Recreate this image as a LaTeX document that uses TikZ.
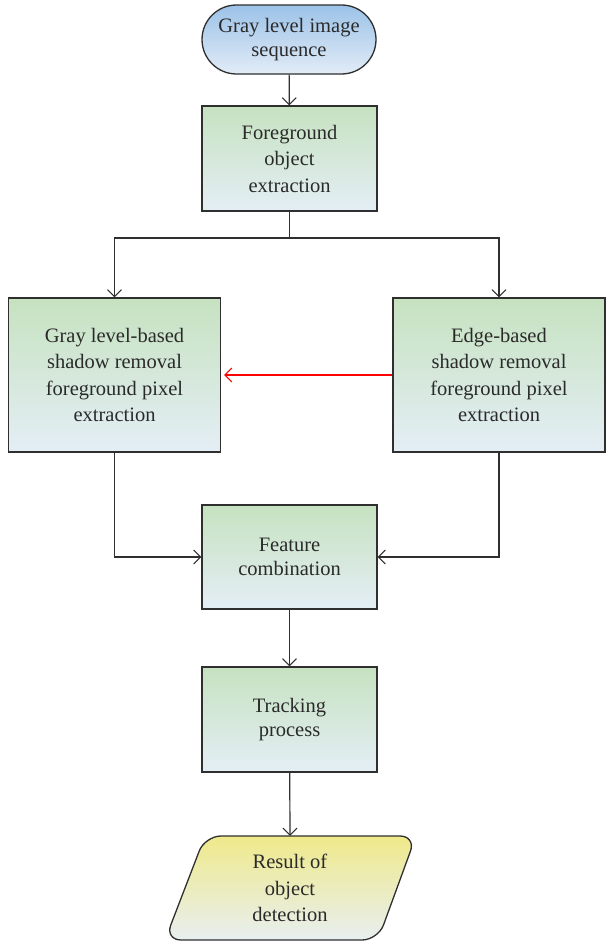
\documentclass[tikz,border=0pt]{standalone}
\usepackage{fontspec}
\setmainfont{Liberation Serif}
\usetikzlibrary{arrows.meta,shapes.misc}
\definecolor{termtop}{HTML}{9CC2E8}
\definecolor{termbot}{HTML}{E2ECF7}
\definecolor{boxtop}{HTML}{C6E2C0}
\definecolor{boxbot}{HTML}{E4EEF5}
\definecolor{restop}{HTML}{EFE98A}
\definecolor{resbot}{HTML}{E8EFF1}
\definecolor{edgeclr}{HTML}{2F2F2F}
\definecolor{txtclr}{HTML}{2A2A2A}
\begin{document}
\begin{tikzpicture}[x=1pt,y=-1pt,
  every node/.style={font=\fontsize{20.5}{26.5}\selectfont, align=center, text=txtclr},
  procbox/.style={draw=edgeclr, line width=1.3pt, top color=boxtop, bottom color=boxbot,
    minimum width=175pt, minimum height=105pt, inner sep=0pt},
  widebox/.style={procbox, minimum width=212pt, minimum height=154pt},
  termbox/.style={rounded rectangle, draw=edgeclr, line width=1.3pt, top color=termtop,
    bottom color=termbot, minimum width=174pt, minimum height=69pt, inner sep=0pt},
  arr/.style={-{Straight Barb[length=7pt,width=14pt,line width=1pt]}, line width=1.2pt, draw=edgeclr},
  link/.style={line width=1.2pt, draw=edgeclr}]

\useasboundingbox (0,0) rectangle (606,942);

% blocks
\node[termbox] (seq) at (289,39.5) {Gray level image\\[-3pt]sequence};
\node[procbox] (fg) at (289.5,158.5) {Foreground\\object\\extraction};
\node[widebox] (gray) at (114.5,375) {Gray level-based\\shadow removal\\foreground pixel\\extraction};
\node[widebox] (edge) at (499,375) {Edge-based\\shadow removal\\foreground pixel\\extraction};
\node[procbox, minimum height=104pt] (feat) at (289.5,557) {Feature\\[-3pt]combination};
\node[procbox] (track) at (289.5,719.5) {Tracking\\[-3pt]process};

% output: rounded parallelogram with its label
\shade[top color=restop, bottom color=resbot, draw=edgeclr, line width=1.3pt, rounded corners=16pt]
  (205,836) -- (416,836) -- (378,940) -- (165,940) -- cycle;
\node[minimum width=200pt, minimum height=104pt, inner sep=0pt] (res) at (290,888) {Result of\\object\\detection};

% connectors
\coordinate (split) at (289.5,238);
\draw[arr] (seq) -- (fg);
\draw[link] (fg.south) -- (split);
\draw[arr] (split) -| (gray.north);
\draw[arr] (split) -| (edge.north);
\draw[arr, draw=red, shorten >=3pt] (edge.west) -- (gray.east);
\draw[arr] (gray.south) |- (feat.west);
\draw[arr] (edge.south) |- (feat.east);
\draw[arr] (feat) -- (track);
\draw[arr] (track) -- (res.north);
\end{tikzpicture}
\end{document}
